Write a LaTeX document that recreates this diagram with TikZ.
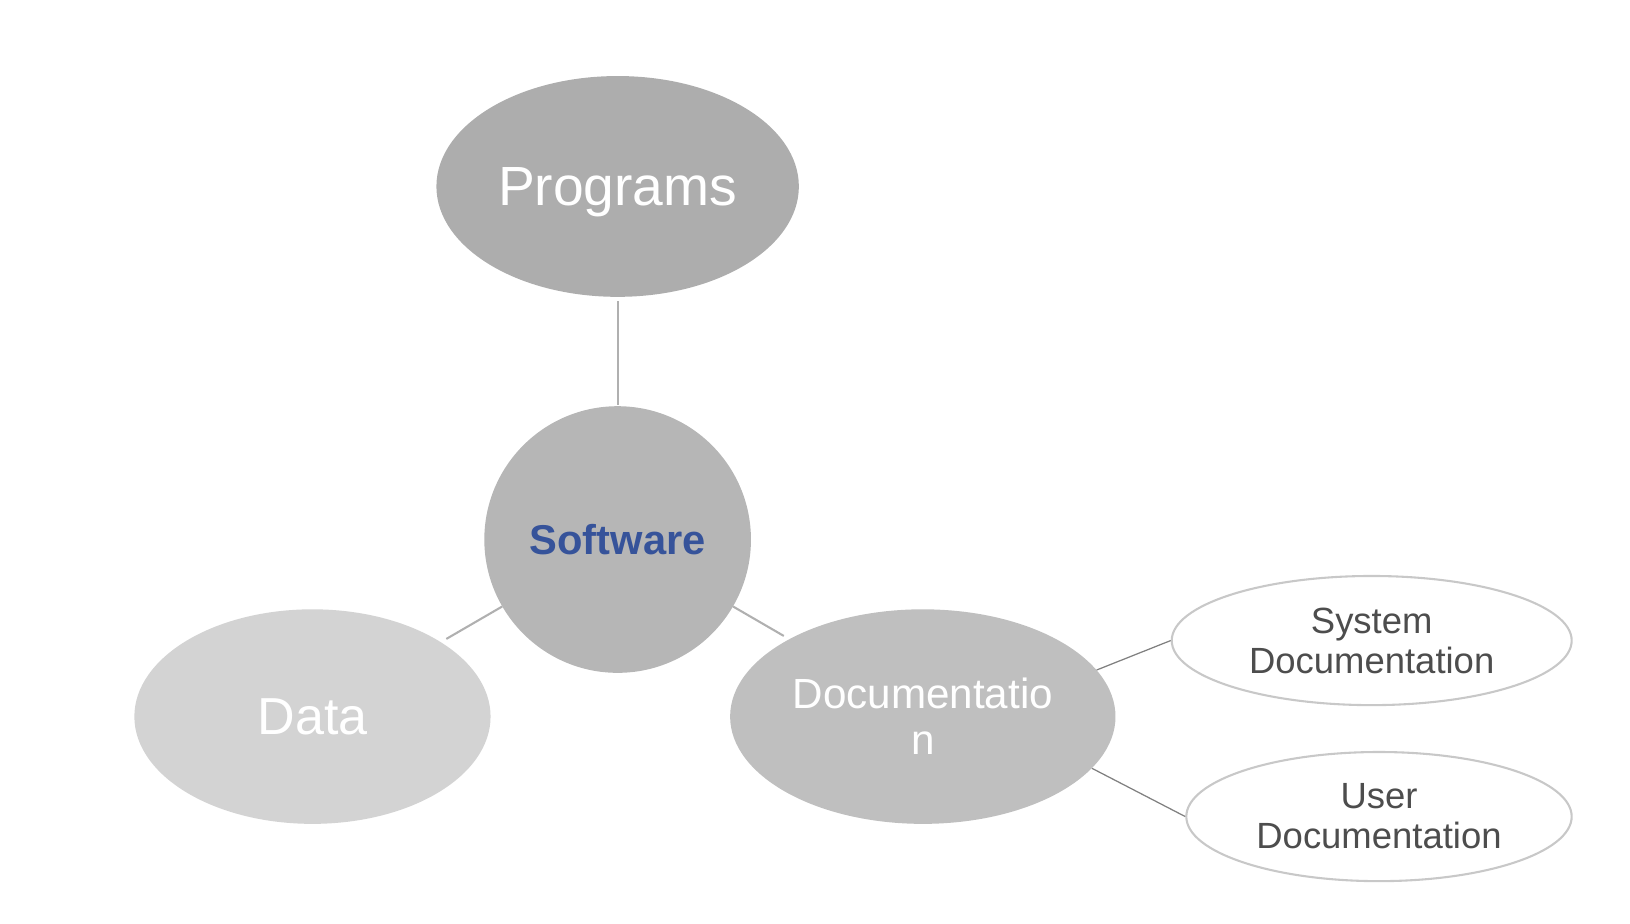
\documentclass[tikz,border=0pt]{standalone}
\usepackage{fontspec}
\setmainfont{Liberation Sans}
\usetikzlibrary{shapes.geometric}
\definecolor{progfill}{HTML}{ADADAD}
\definecolor{softfill}{HTML}{B6B6B6}
\definecolor{datafill}{HTML}{D3D3D3}
\definecolor{docfill}{HTML}{BFBFBF}
\definecolor{softtext}{HTML}{36539A}
\definecolor{subtext}{HTML}{4D4D4D}
\definecolor{substroke}{HTML}{C8C8C8}
\definecolor{linkmain}{HTML}{B0B0B0}
\definecolor{linksub}{HTML}{808080}
\tikzset{
  bigell/.style={ellipse, inner sep=0pt, text=white, align=center},
  subell/.style={ellipse, inner sep=0pt, draw=substroke, line width=2pt, fill=white,
    text=subtext, align=center, font=\fontsize{35}{38.5}\selectfont},
  mainlink/.style={draw=linkmain, line width=2pt},
  sublink/.style={draw=linksub, line width=1.2pt}
}
\begin{document}
\begin{tikzpicture}[x=1pt,y=-1pt]
\useasboundingbox (0,0) rectangle (1565,887);
\node[bigell, fill=progfill, minimum width=348pt, minimum height=212pt, text depth=0pt,
  font=\fontsize{53}{60}\selectfont] (prog) at (593,179) {Programs};
\node[circle, inner sep=0pt, fill=softfill, minimum size=256pt,
  text=softtext, font=\fontsize{40}{46}\selectfont\bfseries] (soft) at (593,518) {Software};
\node[bigell, fill=datafill, minimum width=342pt, minimum height=206pt,
  font=\fontsize{50}{56}\selectfont] (data) at (300,688) {Data};
\node[bigell, fill=docfill, minimum width=370pt, minimum height=206pt,
  font=\fontsize{40.5}{44}\selectfont] (doc) at (886,688) {Documentatio\\n};
\node[subell, minimum width=384pt, minimum height=124pt] (sys) at (1317,615) {System\\Documentation};
\node[subell, minimum width=370pt, minimum height=124pt] (user) at (1324,784) {User\\Documentation};
\draw[mainlink, shorten <=4pt, shorten >=1pt] (prog) -- (soft);
\draw[mainlink, shorten >=6pt] (soft) -- (data);
\draw[mainlink, shorten >=6pt] (soft) -- (doc);
\draw[sublink] (doc.15) -- (sys.west);
\draw[sublink] (doc.-17) -- (user.west);
\end{tikzpicture}
\end{document}
